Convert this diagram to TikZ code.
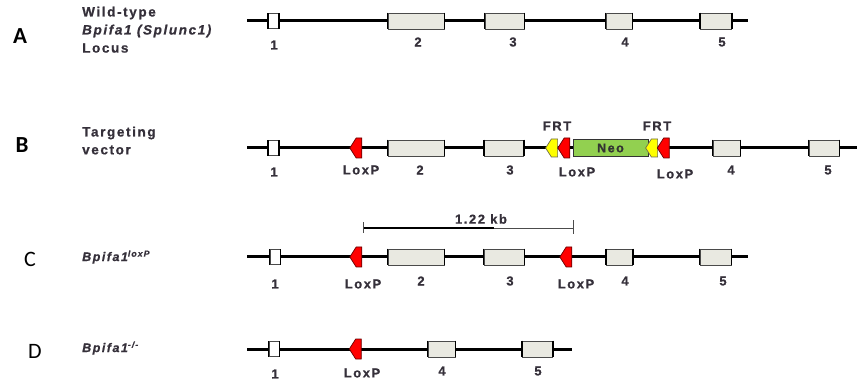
\documentclass[tikz,border=0pt]{standalone}
\usepackage{fontspec}
\setmainfont{Liberation Sans}
\newfontfamily\labfont[LetterSpace=12, BoldFeatures={FakeBold=0.8}, BoldItalicFeatures={FakeBold=0.8}]{Liberation Sans}
\newfontfamily\capfont{Carlito}
\usetikzlibrary{shapes.symbols}

\definecolor{txt}{HTML}{35303A}
\definecolor{exfill}{HTML}{E9E9E1}
\definecolor{exedge}{HTML}{4A4A4A}
\definecolor{neogreen}{HTML}{92D050}
\definecolor{loxred}{HTML}{FF0000}
\definecolor{frtyel}{HTML}{FFFF00}

\tikzset{
  gene/.style={line width=3pt, black},
  exon/.style={rectangle, draw=exedge, fill=exfill, line width=0.9pt, minimum height=16pt, inner sep=0pt},
  exonone/.style={exon, fill=white, minimum width=10pt, minimum height=15pt},
  side/.style={black, line width=1.8pt},
  lox/.style={signal, signal to=west, signal from=nowhere, fill=loxred, draw=red!40!black, line width=0.7pt,
    minimum width=12pt, minimum height=20pt, inner sep=0pt, signal pointer angle=115},
  frt/.style={lox, fill=frtyel, draw=yellow!35!black, minimum height=18pt},
  neo/.style={rectangle, fill=neogreen, draw=black!80, line width=0.9pt, minimum width=75pt, minimum height=17pt, inner sep=0pt,
    font=\labfont\bfseries\fontsize{12.5}{14}\selectfont, text=black!80},
  num/.style={font=\labfont\bfseries\fontsize{13}{15}\selectfont, text=txt, inner sep=0pt},
  title/.style={font=\labfont\bfseries\fontsize{13.5}{15}\selectfont, text=txt, inner sep=0pt, anchor=west},
  gname/.style={title, font=\labfont\bfseries\itshape\fontsize{12.5}{14}\selectfont},
  letter/.style={font=\capfont\fontsize{22}{24}\selectfont, text=black, inner sep=0pt},
  bigletter/.style={letter, font=\capfont\bfseries\fontsize{23}{25}\selectfont},
  scalebar/.style={line width=0.7pt, black!70},
}

\begin{document}
\begin{tikzpicture}[x=1pt, y=-1pt]
\useasboundingbox (0,0) rectangle (857,382);

% ---------------- Row A ----------------
\node[bigletter] (A) at (20,36) {A};
\node[title] (tA1) at (82,13) {Wild-type};
\node[title] (tA2) at (82,31) {\itshape Bpifa1 (Splunc1)};
\node[title] (tA3) at (82,48) {Locus};

\coordinate (a0) at (247,21);
\coordinate (a1) at (748,21);
\draw[gene] (a0) -- (a1);
\node[exonone] (ae1) at (273.5,21) {};
\node[exon, minimum width=56pt] (ae2) at (416,21) {};
\node[exon, minimum width=39pt] (ae3) at (504.5,21) {};
\node[exon, minimum width=26pt] (ae4) at (619,21) {};
\node[exon, minimum width=31pt] (ae5) at (716,21) {};
\node[num] (al1) at (274,45) {1};
\node[num] (al2) at (418,42) {2};
\node[num] (al3) at (513,42) {3};
\node[num] (al4) at (625,42) {4};
\node[num] (al5) at (722,42) {5};

% ---------------- Row B ----------------
\node[bigletter] (B) at (22,145) {B};
\node[title] (tB1) at (82,133) {Targeting};
\node[title] (tB2) at (82,150) {vector};

\coordinate (b0) at (247,148);
\coordinate (b1) at (857,148);
\draw[gene] (b0) -- (b1);
\node[exonone] (be1) at (273.5,148) {};
\node[lox] (bx1) at (359,148) {};
\node[exon, minimum width=56pt] (be2) at (416,148) {};
\node[exon, minimum width=39pt] (be3) at (504,148) {};
\node[frt] (bf1) at (554.5,148) {};
\node[lox] (bx2) at (567,148) {};
\node[neo] (neo) at (610.5,148) {Neo};
\node[frt] (bf2) at (654.5,148) {};
\node[lox] (bx3) at (666.5,148) {};
\node[exon, minimum width=27pt] (be4) at (726.5,148) {};
\node[exon, minimum width=30pt] (be5) at (824,148) {};
\node[num] (bfrt1) at (557,126) {FRT};
\node[num] (bfrt2) at (657,126) {FRT};
\node[num] (bl1) at (274,172) {1};
\node[num] (blx1) at (361,170) {LoxP};
\node[num] (bl2) at (420,170) {2};
\node[num] (bl3) at (510,170) {3};
\node[num] (blx2) at (577,172) {LoxP};
\node[num] (blx3) at (675,174) {LoxP};
\node[num] (bl4) at (731,170) {4};
\node[num] (bl5) at (828,170) {5};

% ---------------- Row C ----------------
\node[letter] (C) at (30,259) {C};
\node[gname] (tC) at (82,257) {Bpifa1\textsuperscript{loxP}};

\coordinate (sL) at (363,228);
\coordinate (sM) at (494,228);
\coordinate (sR) at (573,228);
\draw[scalebar] (sL) -- (sR);
\draw[line width=1.3pt, black] (sL) -- (sM);
\draw[scalebar] ([yshift=-5pt]sL) -- ([yshift=6pt]sL);
\draw[scalebar] ([yshift=-6pt]sR) -- ([yshift=8pt]sR);
\node[num] (kb) at (481,219) {1.22 kb};

\coordinate (c0) at (247,257);
\coordinate (c1) at (748,257);
\draw[gene] (c0) -- (c1);
\node[exonone] (ce1) at (275,257) {};
\node[lox] (cx1) at (359,257) {};
\node[exon, minimum width=56pt] (ce2) at (416,257) {};
\node[exon, minimum width=40pt] (ce3) at (504,257) {};
\node[lox] (cx2) at (569,257) {};
\node[exon, minimum width=26pt] (ce4) at (619.5,257) {};
\node[exon, minimum width=31pt] (ce5) at (715.5,257) {};
\node[num] (cl1) at (275,284) {1};
\node[num] (clx1) at (363,284) {LoxP};
\node[num] (cl2) at (421,281) {2};
\node[num] (cl3) at (510,281) {3};
\node[num] (clx2) at (576,284) {LoxP};
\node[num] (cl4) at (625,281) {4};
\node[num] (cl5) at (723,281) {5};

% ---------------- Row D ----------------
\node[letter] (D) at (35,351) {D};
\node[gname] (tD) at (82,348) {Bpifa1\textsuperscript{-/-}};

\coordinate (d0) at (247,349);
\coordinate (d1) at (572,349);
\draw[gene] (d0) -- (d1);
\node[exonone] (de1) at (274,349) {};
\node[lox] (dx1) at (358.5,349) {};
\node[exon, minimum width=27pt] (de4) at (441.5,349) {};
\node[exon, minimum width=30pt] (de5) at (537.5,349) {};
\node[num] (dl1) at (275,374) {1};
\node[num] (dlx1) at (362,373) {LoxP};
\node[num] (dl4) at (442,371) {4};
\node[num] (dl5) at (538,371) {5};

% black ends of exon boxes
\foreach \n in {ae1,ae2,ae3,ae4,ae5,be1,be2,be3,be4,be5,ce1,ce2,ce3,ce4,ce5,de1,de4,de5}
  \draw[side] (\n.north west) -- (\n.south west) (\n.north east) -- (\n.south east);
\end{tikzpicture}
\end{document}
